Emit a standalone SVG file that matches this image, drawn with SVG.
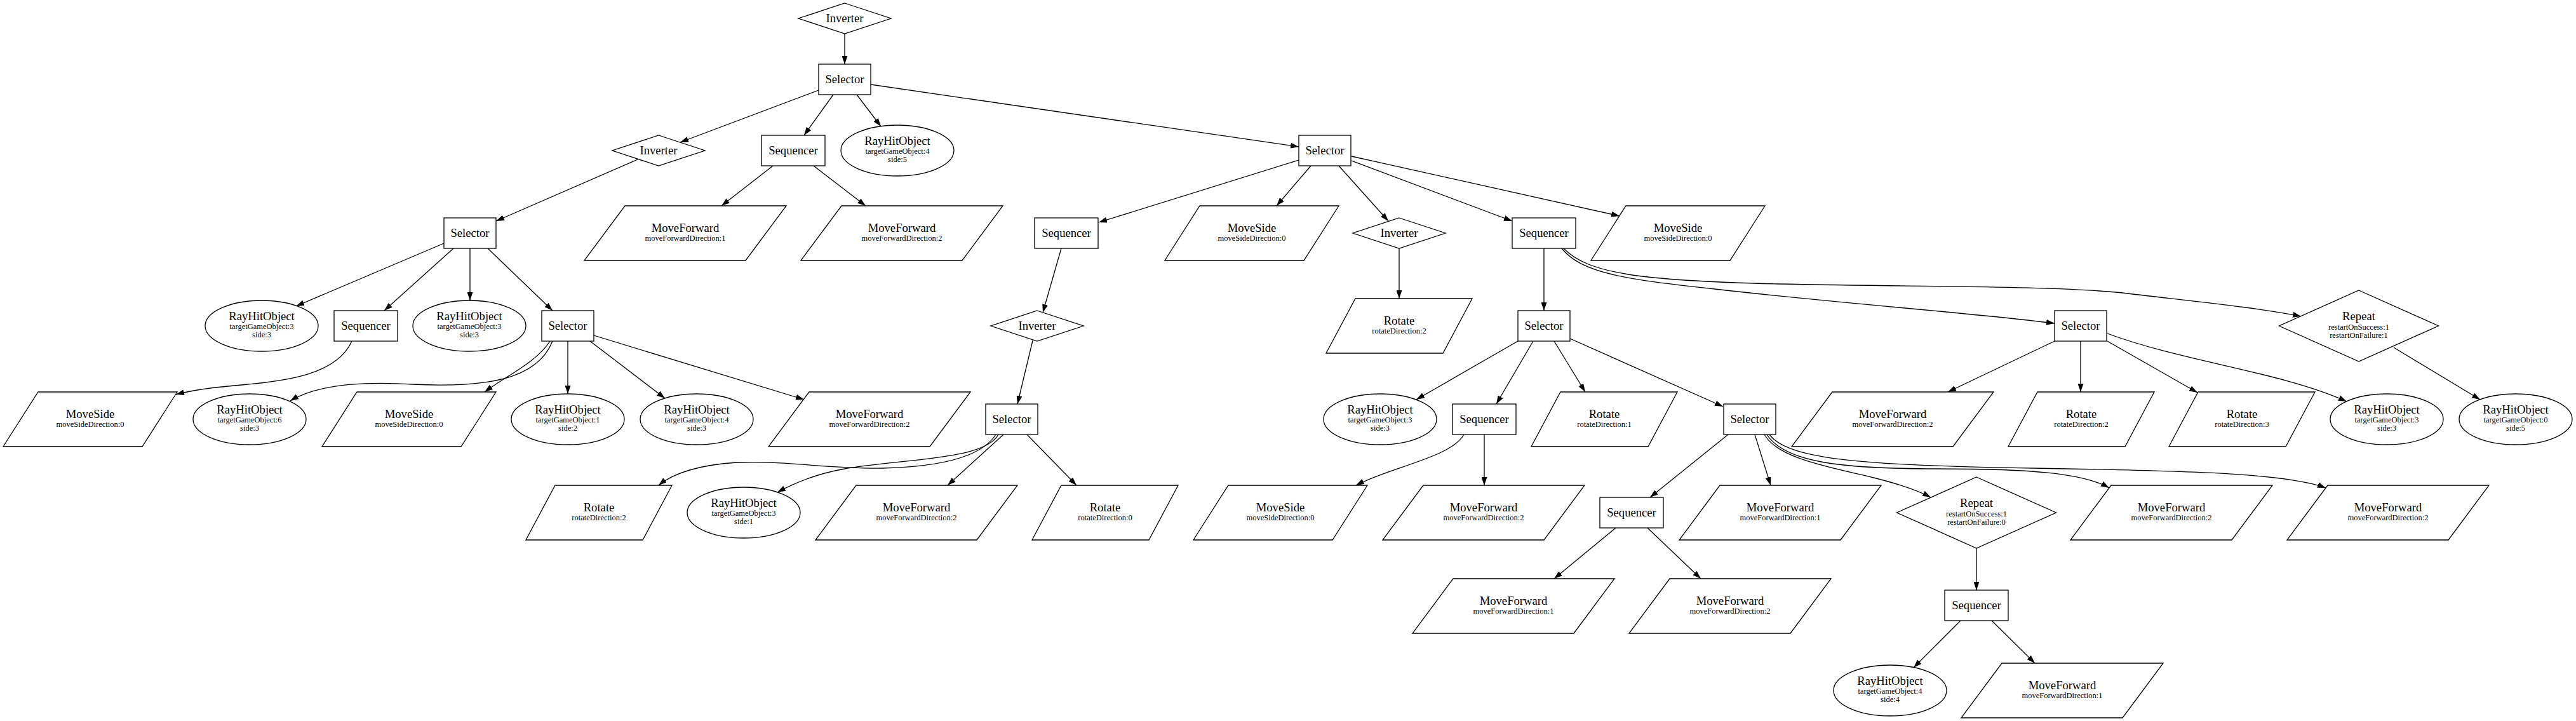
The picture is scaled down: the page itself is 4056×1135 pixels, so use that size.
<svg xmlns="http://www.w3.org/2000/svg" xmlns:xlink="http://www.w3.org/1999/xlink" width="4056" height="1135" viewBox="0 0 4056 1135">
<style>
.sh{fill:#fff;stroke:#000;stroke-width:1.3}
.e{fill:none;stroke:#000;stroke-width:1.3;marker-end:url(#ah)}
text{font-family:"Liberation Serif","Times New Roman",serif;text-anchor:middle;fill:#000}
.m{font-size:18.67px}
.s{font-size:12.5px}
</style>
<defs>
<marker id="ah" viewBox="0 0 13 9" refX="13" refY="4.5" markerWidth="13" markerHeight="9" markerUnits="userSpaceOnUse" orient="auto"><path d="M0,0 L13,4.5 L0,9 z" fill="#000"/></marker>
<rect id="sel" x="-41" y="-24" width="82" height="48"/>
<rect id="seq" x="-50" y="-24" width="100" height="48"/>
<polygon id="inv" points="0,-24 73,0 0,24 -73,0"/>
<polygon id="rep" points="0,-56 125.5,0 0,56 -125.5,0"/>
<ellipse id="ray" cx="0" cy="0" rx="89" ry="40"/>
<polygon id="mf" points="-95,-43 159,-43 95,43 -159,43"/>
<polygon id="ms" points="-82,-43 137,-43 82,43 -137,43"/>
<polygon id="rot" points="-69,-43 115,-43 69,43 -115,43"/>
</defs>
<rect width="4056" height="1135" fill="#fff"/>
<g id="edges">
<path class="e" d="M1330,53 L1330,101"/>
<path class="e" d="M1289,142 L1071,224"/>
<path class="e" d="M1312,149 L1266,213"/>
<path class="e" d="M1349,149 L1387,199"/>
<path class="e" d="M1371,133 L2045,231"/>
<path class="e" d="M1004,251 L781,348"/>
<path class="e" d="M1217,261 L1136,324"/>
<path class="e" d="M1281,261 L1363,324"/>
<path class="e" d="M2045,252 L1730,350"/>
<path class="e" d="M2064,261 L2010,324"/>
<path class="e" d="M2108,261 L2186,348"/>
<path class="e" d="M2128,253 L2381,348"/>
<path class="e" d="M2128,246 L2550,340"/>
<path class="e" d="M699,383 L466,482"/>
<path class="e" d="M714,391 L605,489"/>
<path class="e" d="M740,391 L740,473"/>
<path class="e" d="M768,391 L870,489"/>
<path class="e" d="M554,537 C530,590 450,600 380,606 C330,610 300,615 277,621"/>
<path class="e" d="M870,537 C845,600 760,610 650,605 C570,600 500,605 457,631"/>
<path class="e" d="M866,537 C845,570 800,590 763,617"/>
<path class="e" d="M894,537 L894,620"/>
<path class="e" d="M929,537 L1047,627"/>
<path class="e" d="M935,528 L1266,629"/>
<path class="e" d="M1671,391 L1642,492"/>
<path class="e" d="M1626,536 L1602,636"/>
<path class="e" d="M2203,391 L2203,470"/>
<path class="e" d="M2431,391 L2431,489"/>
<path class="e" d="M2459,391 C2490,430 2560,440 2700,455 C2900,478 3100,492 3235,509"/>
<path class="e" d="M2462,391 C2500,430 2580,442 2800,447 C3050,452 3250,450 3350,462 C3460,475 3560,485 3623,498"/>
<path class="e" d="M2390,537 L2230,629"/>
<path class="e" d="M2414,537 L2356,636"/>
<path class="e" d="M2447,537 L2496,617"/>
<path class="e" d="M2472,533 L2713,640"/>
<path class="e" d="M3235,537 L3067,617"/>
<path class="e" d="M3276,537 L3276,617"/>
<path class="e" d="M3318,537 L3460,618"/>
<path class="e" d="M3318,525 C3440,570 3590,585 3695,632"/>
<path class="e" d="M3769,547 L3905,629"/>
<path class="e" d="M1568,684 C1545,720 1480,735 1390,737 C1300,738 1240,725 1160,728 C1100,732 1060,745 1037,764"/>
<path class="e" d="M1572,684 C1550,725 1420,722 1330,738 C1290,745 1255,758 1224,775"/>
<path class="e" d="M1580,684 L1492,764"/>
<path class="e" d="M1617,684 L1695,764"/>
<path class="e" d="M2305,684 C2285,720 2190,735 2135,764"/>
<path class="e" d="M2337,684 L2337,764"/>
<path class="e" d="M2721,684 L2598,783"/>
<path class="e" d="M2763,684 L2788,764"/>
<path class="e" d="M2778,684 C2800,722 2880,735 2950,752 C2990,762 3020,772 3040,783"/>
<path class="e" d="M2782,684 C2810,728 2900,738 3050,738 C3200,738 3280,745 3321,768"/>
<path class="e" d="M2786,684 C2815,725 2950,733 3200,737 C3450,741 3600,745 3662,768"/>
<path class="e" d="M2544,831 L2447,911"/>
<path class="e" d="M2594,831 L2678,911"/>
<path class="e" d="M3112,863 L3112,929"/>
<path class="e" d="M3087,977 L3013,1051"/>
<path class="e" d="M3136,977 L3204,1044"/>
</g>
<g id="n1"><use href="#inv" class="sh" x="1330" y="29"/><text class="m" x="1330" y="35">Inverter</text></g>
<g id="n2"><use href="#sel" class="sh" x="1330" y="125"/><text class="m" x="1330" y="131">Selector</text></g>
<g id="n3"><use href="#inv" class="sh" x="1037" y="237"/><text class="m" x="1037" y="243">Inverter</text></g>
<g id="n4"><use href="#seq" class="sh" x="1249" y="237"/><text class="m" x="1249" y="243">Sequencer</text></g>
<g id="n5"><use href="#ray" class="sh" x="1413" y="237"/><text class="m" x="1413" y="228">RayHitObject</text><text class="s" x="1413" y="242">targetGameObject:4</text><text class="s" x="1413" y="255">side:5</text></g>
<g id="n6"><use href="#sel" class="sh" x="2086" y="237"/><text class="m" x="2086" y="243">Selector</text></g>
<g id="n7"><use href="#sel" class="sh" x="740" y="367"/><text class="m" x="740" y="373">Selector</text></g>
<g id="n8"><use href="#mf" class="sh" x="1079" y="367"/><text class="m" x="1079" y="365">MoveForward</text><text class="s" x="1079" y="379">moveForwardDirection:1</text></g>
<g id="n9"><use href="#mf" class="sh" x="1420" y="367"/><text class="m" x="1420" y="365">MoveForward</text><text class="s" x="1420" y="379">moveForwardDirection:2</text></g>
<g id="n10"><use href="#seq" class="sh" x="1679" y="367"/><text class="m" x="1679" y="373">Sequencer</text></g>
<g id="n11"><use href="#ms" class="sh" x="1971" y="367"/><text class="m" x="1971" y="365">MoveSide</text><text class="s" x="1971" y="379">moveSideDirection:0</text></g>
<g id="n12"><use href="#inv" class="sh" x="2203" y="367"/><text class="m" x="2203" y="373">Inverter</text></g>
<g id="n13"><use href="#seq" class="sh" x="2431" y="367"/><text class="m" x="2431" y="373">Sequencer</text></g>
<g id="n14"><use href="#ms" class="sh" x="2642" y="367"/><text class="m" x="2642" y="365">MoveSide</text><text class="s" x="2642" y="379">moveSideDirection:0</text></g>
<g id="n15"><use href="#ray" class="sh" x="412" y="513"/><text class="m" x="412" y="504">RayHitObject</text><text class="s" x="412" y="518">targetGameObject:3</text><text class="s" x="412" y="531">side:3</text></g>
<g id="n16"><use href="#seq" class="sh" x="576" y="513"/><text class="m" x="576" y="519">Sequencer</text></g>
<g id="n17"><use href="#ray" class="sh" x="739" y="513"/><text class="m" x="739" y="504">RayHitObject</text><text class="s" x="739" y="518">targetGameObject:3</text><text class="s" x="739" y="531">side:3</text></g>
<g id="n18"><use href="#sel" class="sh" x="894" y="513"/><text class="m" x="894" y="519">Selector</text></g>
<g id="n19"><use href="#inv" class="sh" x="1633" y="513"/><text class="m" x="1633" y="519">Inverter</text></g>
<g id="n20"><use href="#rot" class="sh" x="2203" y="513"/><text class="m" x="2203" y="511">Rotate</text><text class="s" x="2203" y="525">rotateDirection:2</text></g>
<g id="n21"><use href="#sel" class="sh" x="2431" y="513"/><text class="m" x="2431" y="519">Selector</text></g>
<g id="n22"><use href="#sel" class="sh" x="3276" y="513"/><text class="m" x="3276" y="519">Selector</text></g>
<g id="n23"><use href="#rep" class="sh" x="3714" y="513"/><text class="m" x="3714" y="504">Repeat</text><text class="s" x="3714" y="519">restartOnSuccess:1</text><text class="s" x="3714" y="532">restartOnFailure:1</text></g>
<g id="n24"><use href="#ms" class="sh" x="142" y="660"/><text class="m" x="142" y="658">MoveSide</text><text class="s" x="142" y="672">moveSideDirection:0</text></g>
<g id="n25"><use href="#ray" class="sh" x="393" y="660"/><text class="m" x="393" y="651">RayHitObject</text><text class="s" x="393" y="665">targetGameObject:6</text><text class="s" x="393" y="678">side:3</text></g>
<g id="n26"><use href="#ms" class="sh" x="644" y="660"/><text class="m" x="644" y="658">MoveSide</text><text class="s" x="644" y="672">moveSideDirection:0</text></g>
<g id="n27"><use href="#ray" class="sh" x="894" y="660"/><text class="m" x="894" y="651">RayHitObject</text><text class="s" x="894" y="665">targetGameObject:1</text><text class="s" x="894" y="678">side:2</text></g>
<g id="n28"><use href="#ray" class="sh" x="1097" y="660"/><text class="m" x="1097" y="651">RayHitObject</text><text class="s" x="1097" y="665">targetGameObject:4</text><text class="s" x="1097" y="678">side:3</text></g>
<g id="n29"><use href="#mf" class="sh" x="1369" y="660"/><text class="m" x="1369" y="658">MoveForward</text><text class="s" x="1369" y="672">moveForwardDirection:2</text></g>
<g id="n30"><use href="#sel" class="sh" x="1593" y="660"/><text class="m" x="1593" y="666">Selector</text></g>
<g id="n31"><use href="#ray" class="sh" x="2173" y="660"/><text class="m" x="2173" y="651">RayHitObject</text><text class="s" x="2173" y="665">targetGameObject:3</text><text class="s" x="2173" y="678">side:3</text></g>
<g id="n32"><use href="#seq" class="sh" x="2337" y="660"/><text class="m" x="2337" y="666">Sequencer</text></g>
<g id="n33"><use href="#rot" class="sh" x="2526" y="660"/><text class="m" x="2526" y="658">Rotate</text><text class="s" x="2526" y="672">rotateDirection:1</text></g>
<g id="n34"><use href="#sel" class="sh" x="2755" y="660"/><text class="m" x="2755" y="666">Selector</text></g>
<g id="n35"><use href="#mf" class="sh" x="2980" y="660"/><text class="m" x="2980" y="658">MoveForward</text><text class="s" x="2980" y="672">moveForwardDirection:2</text></g>
<g id="n36"><use href="#rot" class="sh" x="3277" y="660"/><text class="m" x="3277" y="658">Rotate</text><text class="s" x="3277" y="672">rotateDirection:2</text></g>
<g id="n37"><use href="#rot" class="sh" x="3530" y="660"/><text class="m" x="3530" y="658">Rotate</text><text class="s" x="3530" y="672">rotateDirection:3</text></g>
<g id="n38"><use href="#ray" class="sh" x="3758" y="660"/><text class="m" x="3758" y="651">RayHitObject</text><text class="s" x="3758" y="665">targetGameObject:3</text><text class="s" x="3758" y="678">side:3</text></g>
<g id="n39"><use href="#ray" class="sh" x="3961" y="660"/><text class="m" x="3961" y="651">RayHitObject</text><text class="s" x="3961" y="665">targetGameObject:0</text><text class="s" x="3961" y="678">side:5</text></g>
<g id="n40"><use href="#rot" class="sh" x="943" y="807"/><text class="m" x="943" y="805">Rotate</text><text class="s" x="943" y="819">rotateDirection:2</text></g>
<g id="n41"><use href="#ray" class="sh" x="1171" y="807"/><text class="m" x="1171" y="798">RayHitObject</text><text class="s" x="1171" y="812">targetGameObject:3</text><text class="s" x="1171" y="825">side:1</text></g>
<g id="n42"><use href="#mf" class="sh" x="1443" y="807"/><text class="m" x="1443" y="805">MoveForward</text><text class="s" x="1443" y="819">moveForwardDirection:2</text></g>
<g id="n43"><use href="#rot" class="sh" x="1740" y="807"/><text class="m" x="1740" y="805">Rotate</text><text class="s" x="1740" y="819">rotateDirection:0</text></g>
<g id="n44"><use href="#ms" class="sh" x="2016" y="807"/><text class="m" x="2016" y="805">MoveSide</text><text class="s" x="2016" y="819">moveSideDirection:0</text></g>
<g id="n45"><use href="#mf" class="sh" x="2336" y="807"/><text class="m" x="2336" y="805">MoveForward</text><text class="s" x="2336" y="819">moveForwardDirection:2</text></g>
<g id="n46"><use href="#seq" class="sh" x="2569" y="807"/><text class="m" x="2569" y="813">Sequencer</text></g>
<g id="n47"><use href="#mf" class="sh" x="2803" y="807"/><text class="m" x="2803" y="805">MoveForward</text><text class="s" x="2803" y="819">moveForwardDirection:1</text></g>
<g id="n48"><use href="#rep" class="sh" x="3112" y="807"/><text class="m" x="3112" y="798">Repeat</text><text class="s" x="3112" y="813">restartOnSuccess:1</text><text class="s" x="3112" y="826">restartOnFailure:0</text></g>
<g id="n49"><use href="#mf" class="sh" x="3419" y="807"/><text class="m" x="3419" y="805">MoveForward</text><text class="s" x="3419" y="819">moveForwardDirection:2</text></g>
<g id="n50"><use href="#mf" class="sh" x="3760" y="807"/><text class="m" x="3760" y="805">MoveForward</text><text class="s" x="3760" y="819">moveForwardDirection:2</text></g>
<g id="n51"><use href="#mf" class="sh" x="2383" y="954"/><text class="m" x="2383" y="952">MoveForward</text><text class="s" x="2383" y="966">moveForwardDirection:1</text></g>
<g id="n52"><use href="#mf" class="sh" x="2724" y="954"/><text class="m" x="2724" y="952">MoveForward</text><text class="s" x="2724" y="966">moveForwardDirection:2</text></g>
<g id="n53"><use href="#seq" class="sh" x="3112" y="953"/><text class="m" x="3112" y="959">Sequencer</text></g>
<g id="n54"><use href="#ray" class="sh" x="2976" y="1087"/><text class="m" x="2976" y="1078">RayHitObject</text><text class="s" x="2976" y="1092">targetGameObject:4</text><text class="s" x="2976" y="1105">side:4</text></g>
<g id="n55"><use href="#mf" class="sh" x="3247" y="1087"/><text class="m" x="3247" y="1085">MoveForward</text><text class="s" x="3247" y="1099">moveForwardDirection:1</text></g>
</svg>
